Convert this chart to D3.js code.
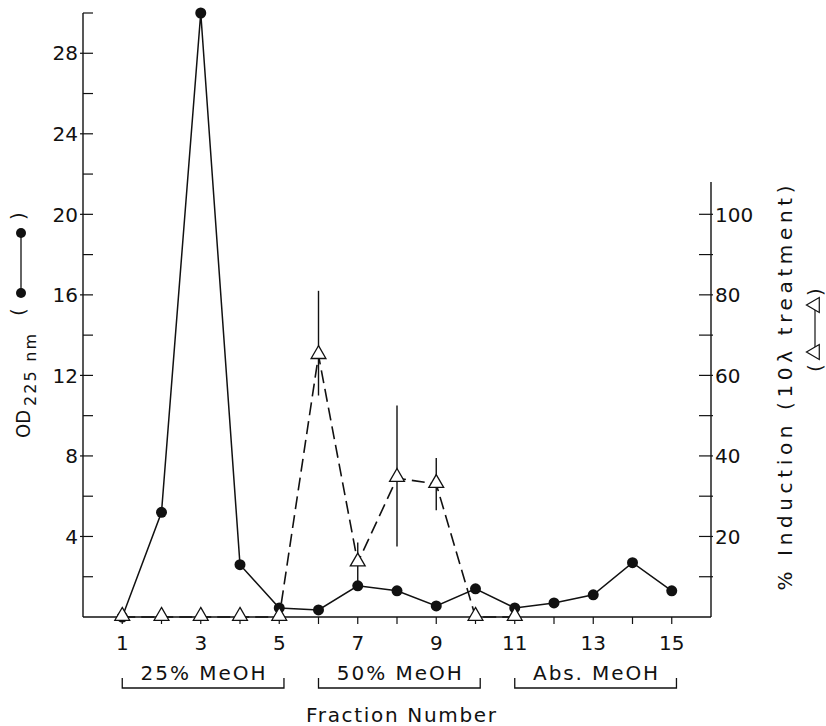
<!DOCTYPE html>
<html><head><meta charset="utf-8">
<script src="https://cdn.jsdelivr.net/npm/d3@7"></script>
<style>
body{margin:0;background:#fff;}
text{font-family:"DejaVu Sans",sans-serif;fill:#111;}
</style></head>
<body>
<svg id="c" width="826" height="726"></svg>
<script>
// ---- data ----
const fractions = [1,2,3,4,5,6,7,8,9,10,11,12,13,14,15];
const od225 = [0,5.2,30,2.6,0.45,0.35,1.55,1.3,0.55,1.4,0.45,0.7,1.1,2.7,1.3];
const indFractions = [1,2,3,4,5,6,7,8,9,10,11];
const induction = [0,0,0,0,0,65,13.5,34.5,33,0,0];
const inductionErrUp = [0,0,0,0,0,16,5,18,6.5,0,0];
const inductionErrDown = [0,0,0,0,0,10,5.5,17,6.5,0,0];
const leftMajorTicks = [4,8,12,16,20,24,28];
const leftMinorTicks = [2,6,10,14,18,22,26,30];
const rightTicks = [10,20,30,40,50,60,70,80,90,100];
const rightLabels = [20,40,60,80,100];
const xTickLabels = [1,3,5,7,9,11,13,15];
const groupLabels = ["25% MeOH","50% MeOH","Abs. MeOH"];
const groupFrom = [1,6,11];
const groupTo = [5,10,15];

const svg = d3.select("#c");
const x = d3.scaleLinear().domain([0,16]).range([83,711]);
const yL = d3.scaleLinear().domain([0,30]).range([617,13]);
const yR = d3.scaleLinear().domain([0,100]).range([617,214.3]);
const yRtop = 182;

// axes lines
const g = svg.append("g").attr("stroke","#111").attr("fill","none");
g.append("line").attr("x1",x(0)).attr("x2",x(0)).attr("y1",yL(30)).attr("y2",yL(0)).attr("stroke-width",1.4);
g.append("line").attr("x1",x(0)).attr("x2",x(16)).attr("y1",yL(0)).attr("y2",yL(0)).attr("stroke-width",1.4);
g.append("line").attr("x1",x(16)).attr("x2",x(16)).attr("y1",yRtop).attr("y2",yL(0)).attr("stroke-width",1.4);

// left ticks
leftMajorTicks.forEach(v=>{
  g.append("line").attr("x1",x(0)-3).attr("x2",x(0)+10).attr("y1",yL(v)).attr("y2",yL(v)).attr("stroke-width",1.2);
  svg.append("text").attr("x",x(0)-5).attr("y",yL(v)).attr("dy","0.36em")
    .attr("text-anchor","end").attr("font-size",20).text(v);
});
leftMinorTicks.forEach(v=>{
  g.append("line").attr("x1",x(0)).attr("x2",x(0)+10).attr("y1",yL(v)).attr("y2",yL(v)).attr("stroke-width",1.2);
});
// right ticks
rightTicks.forEach(v=>{
  g.append("line").attr("x1",x(16)-12).attr("x2",x(16)+2).attr("y1",yR(v)).attr("y2",yR(v)).attr("stroke-width",1.2);
});
rightLabels.forEach(v=>{
  svg.append("text").attr("x",x(16)+4).attr("y",yR(v)).attr("dy","0.36em")
    .attr("text-anchor","start").attr("font-size",20).text(v);
});
// x ticks
fractions.forEach(f=>{
  g.append("line").attr("x1",x(f)).attr("x2",x(f)).attr("y1",yL(0)).attr("y2",yL(0)+7).attr("stroke-width",1.2);
});
xTickLabels.forEach(f=>{
  svg.append("text").attr("x",x(f)).attr("y",650).attr("text-anchor","middle").attr("font-size",20).text(f);
});

// group brackets
groupLabels.forEach((lab,i)=>{
  const x1 = x(groupFrom[i]), x2 = x(groupTo[i]+0.12);
  g.append("path").attr("d",`M${x1},678V688H${x2}V678`).attr("stroke-width",1.3);
  svg.append("text").attr("x",(x1+x2)/2).attr("y",680).attr("text-anchor","middle")
    .attr("font-size",20).attr("textLength",125).attr("lengthAdjust","spacing").text(lab);
});
svg.append("text").attr("x",401).attr("y",722).attr("text-anchor","middle").attr("font-size",20)
  .attr("textLength",190).attr("lengthAdjust","spacing").text("Fraction Number");

// induction dashed line
const lineR = d3.line().x((d,i)=>x(indFractions[i])).y(d=>yR(d));
svg.append("path").datum(induction).attr("d",lineR).attr("fill","none").attr("stroke","#111")
  .attr("stroke-width",1.6).attr("stroke-dasharray","13,6");
// error bars
induction.forEach((v,i)=>{
  const up = inductionErrUp[i], dn = inductionErrDown[i]; if(!up && !dn) return;
  svg.append("line").attr("x1",x(indFractions[i])).attr("x2",x(indFractions[i]))
    .attr("y1",yR(v+up)).attr("y2",yR(v-dn)).attr("stroke","#111").attr("stroke-width",1.4);
});

// OD solid line
const lineL = d3.line().x((d,i)=>x(fractions[i])).y(d=>yL(d));
svg.append("path").datum(od225).attr("d",lineL).attr("fill","none").attr("stroke","#111").attr("stroke-width",1.5);
svg.selectAll("circle.od").data(od225).enter().append("circle").attr("class","od")
  .attr("cx",(d,i)=>x(fractions[i])).attr("cy",d=>yL(d)).attr("r",5.5).attr("fill","#111");

// triangles
const tri = d3.symbol().type(d3.symbolTriangle).size(95);
svg.selectAll("path.tri").data(induction).enter().append("path").attr("class","tri")
  .attr("d",tri).attr("transform",(d,i)=>`translate(${x(indFractions[i])},${yR(d)-1})`)
  .attr("fill","#fff").attr("stroke","#111").attr("stroke-width",1.3);

// left axis title: OD 225 nm (legend)
const lt = svg.append("text").attr("transform","translate(30,438) rotate(-90)").attr("font-size",20);
lt.append("tspan").attr("textLength",28).attr("lengthAdjust","spacingAndGlyphs").text("OD");
lt.append("tspan").attr("font-size",16).attr("dy",6).attr("dx",4).attr("textLength",72).attr("lengthAdjust","spacing").text("225 nm");
svg.append("text").attr("transform","translate(25,312) rotate(-90)").attr("font-size",20).attr("text-anchor","middle").text("(");
svg.append("text").attr("transform","translate(25,216) rotate(-90)").attr("font-size",20).attr("text-anchor","middle").text(")");
svg.append("line").attr("x1",21).attr("x2",21).attr("y1",233).attr("y2",293).attr("stroke","#111").attr("stroke-width",1.3);
svg.append("circle").attr("cx",21).attr("cy",233).attr("r",5).attr("fill","#111");
svg.append("circle").attr("cx",21).attr("cy",293).attr("r",5).attr("fill","#111");

// right axis title
svg.append("text").attr("transform","translate(792,388) rotate(-90)").attr("text-anchor","middle")
  .attr("font-size",20).attr("textLength",405).attr("lengthAdjust","spacing").text("% Induction (10λ treatment)");
// right legend (△—△)
svg.append("text").attr("transform","translate(822,368) rotate(-90)").attr("text-anchor","middle").attr("font-size",20).text("(");
svg.append("text").attr("transform","translate(822,292) rotate(-90)").attr("text-anchor","middle").attr("font-size",20).text(")");
svg.append("line").attr("x1",815).attr("x2",815).attr("y1",305).attr("y2",352).attr("stroke","#111").attr("stroke-width",1.2);
svg.append("path").attr("d",tri).attr("transform","translate(815,352) rotate(-90)").attr("fill","#fff").attr("stroke","#111").attr("stroke-width",1.2);
svg.append("path").attr("d",tri).attr("transform","translate(815,305) rotate(-90)").attr("fill","#fff").attr("stroke","#111").attr("stroke-width",1.2);
</script>
</body></html>
